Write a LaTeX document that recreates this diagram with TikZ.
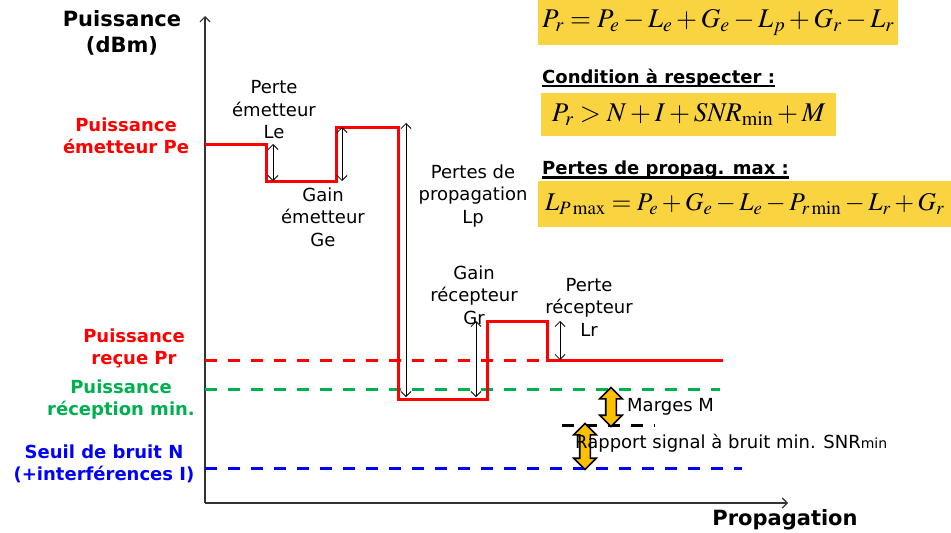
\documentclass[tikz,border=0pt]{standalone}
\usepackage{amsmath}
\usepackage{mathptmx}
\usepackage[no-math]{fontspec}
\setmainfont{DejaVu Sans}
\usepackage{xcolor}
\usetikzlibrary{arrows.meta, positioning, calc, shapes.arrows}

\definecolor{plotred}{RGB}{255,0,0}
\definecolor{plotgreen}{RGB}{0,176,80}
\definecolor{plotblue}{RGB}{0,0,255}
\definecolor{eqyellow}{RGB}{250,212,64}
\definecolor{arrowyellow}{RGB}{255,192,0}

% bold heading with a thick underline
\newcommand{\ulhead}[1]{\setbox0\hbox{#1}\rlap{\rule[-4pt]{\wd0}{2.4pt}}\box0}

\begin{document}
\begin{tikzpicture}[
    x=1pt, y=-1pt,
    >={Straight Barb[length=5pt,width=10pt]},
    font=\fontsize{18}{22.5}\selectfont,
    power/.style={plotred, line width=3pt, line join=miter},
    level/.style={line width=3pt, dash pattern=on 12pt off 11pt},
    delta/.style={<->, line width=0.8pt},
    legend/.style={font=\bfseries\fontsize{18}{22}\selectfont, align=center},
    note/.style={align=center, inner sep=0pt},
    eqbox/.style={fill=eqyellow, anchor=north west, inner sep=0pt, font=\fontsize{27}{30}\selectfont},
    fatarrow/.style={double arrow, draw=black, fill=arrowyellow, line width=1.6pt,
        shape border rotate=90, minimum width=21pt, inner sep=4.5pt, double arrow head extend=6pt}
]
\useasboundingbox (0,0) rectangle (951,533);

% Axes
\coordinate (orig) at (205,503);
\coordinate (ytop) at (205,16);
\coordinate (xend) at (788,503);
\draw[->, line width=1.2pt, black!80] (orig) -- (ytop);
\draw[->, line width=1.2pt, black!80] (orig) -- (xend);

\node[font=\bfseries\fontsize{21}{26}\selectfont, align=center] (ylab) at (122,33) {Puissance\\(dBm)};
\node[font=\bfseries\fontsize{21}{26}\selectfont] (xlab) at (785,520) {Propagation};

% Power levels along the link
\coordinate (p0) at (205,144);
\coordinate (p1) at (266,144);
\coordinate (p2) at (266,181);
\coordinate (p3) at (336,181);
\coordinate (p4) at (336,127);
\coordinate (p5) at (398,127);
\coordinate (p6) at (398,399);
\coordinate (p7) at (487,399);
\coordinate (p8) at (487,321);
\coordinate (p9) at (547,321);
\coordinate (p10) at (547,360);
\coordinate (p11) at (723,360);

% Dashed reference levels
\coordinate (prl) at (205,360);
\coordinate (pml) at (205,389);
\coordinate (pmr) at (720,389);
\coordinate (snrl) at (562,425);
\coordinate (snrr) at (655,425);
\coordinate (nl) at (205,468);
\coordinate (nr) at (742,468);

\draw[level, plotred] (prl) -- (p10);
\draw[level, plotgreen] (pml) -- (pmr);
\draw[level, black] (snrl) -- (snrr);
\draw[level, plotblue] (nl) -- (nr);

\draw[power] (p0) -- (p1) -- (p2) -- (p3) -- (p4) -- (p5) -- (p6) -- (p7)
    -- (p8) -- (p9) -- (p10) -- (p11);

% Gains and losses
\coordinate (le1) at (273,144);
\coordinate (le2) at (273,181);
\coordinate (ge1) at (342,127);
\coordinate (ge2) at (342,181);
\coordinate (lp1) at (406,123);
\coordinate (lp2) at (406,397);
\coordinate (gr1) at (476,321);
\coordinate (gr2) at (476,397);
\coordinate (lr1) at (560,321);
\coordinate (lr2) at (560,360);
\draw[delta] (le1) -- (le2);
\draw[delta] (ge1) -- (ge2);
\draw[delta] (lp1) -- (lp2);
\draw[delta] (gr1) -- (gr2);
\draw[delta] (lr1) -- (lr2);

\node[note] (lenote) at (274,110) {Perte\\émetteur\\Le};
\node[note] (genote) at (323,217) {Gain\\émetteur\\Ge};
\node[note] (lpnote) at (473,196) {Pertes de\\propagation\\Lp};
\node[note] (grnote) at (474,295) {Gain\\récepteur\\Gr};
\node[note] (lrnote) at (589,307) {Perte\\récepteur\\Lr};

% Margin and SNR
\node[fatarrow, minimum height=39pt] (marg) at (611,407) {};
\node[fatarrow, minimum height=46pt] (snr) at (585,446.5) {};
\node[anchor=west, inner sep=0pt] (margtxt) at (627,407) {Marges M};
\node[anchor=west, inner sep=0pt] (snrtxt) at (575,443)
    {Rapport signal à bruit min. SNR{\fontsize{14}{14}\selectfont min}};

% Level names
\node[legend, text=plotred] (pelab) at (126,136) {Puissance\\émetteur Pe};
\node[legend, text=plotred] (prlab) at (134,348) {Puissance\\reçue Pr};
\node[legend, text=plotgreen] (pmlab) at (121,399.5) {Puissance\\réception min.};
\node[legend, text=plotblue] (nlab) at (104,464) {Seuil de bruit N\\(+interférences I)};

% Equations
\node[eqbox, minimum width=360pt, minimum height=45pt] (eq1) at (538,0)
    {$P_r = P_e - L_e + G_e - L_p + G_r - L_r$};
\node[anchor=west, inner sep=0pt, font=\bfseries\fontsize{18}{22}\selectfont] (cond) at (542,78)
    {\ulhead{Condition à respecter :}};
\node[eqbox, minimum width=295pt, minimum height=43pt] (eq2) at (541,93)
    {$P_r > N + I + \mathit{SNR}_{\min} + M$};
\node[anchor=west, inner sep=0pt, font=\bfseries\fontsize{18}{22}\selectfont] (lpmax) at (542,170)
    {\ulhead{Pertes de propag. max :}};
\node[eqbox, minimum width=413pt, minimum height=46pt, font=\fontsize{25.5}{30}\selectfont] (eq3) at (538,181)
    {$L_{P\max} = P_e + G_e - L_e - P_{r\min} - L_r + G_r$};

\end{tikzpicture}
\end{document}
